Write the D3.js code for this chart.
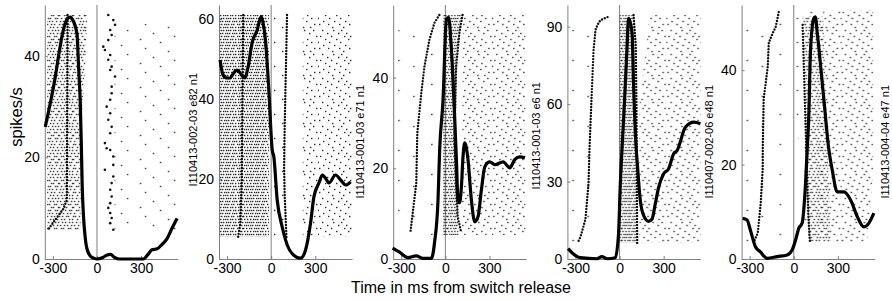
<!DOCTYPE html>
<html>
<head>
<meta charset="utf-8">
<script src="https://cdn.jsdelivr.net/npm/d3@7"></script>
<style>
body { margin: 0; background: #fff; }
svg { display: block; font-family: Arial, "Liberation Sans", sans-serif; }
</style>
</head>
<body>
<svg id="chart" width="892" height="300"></svg>
<script>
// unit names, axis limits and ticks
var labels = ["I110413-002-03 e82 n1", "I110413-001-03 e71 n1", "I110413-001-03 e6 n1",
              "I110407-002-06 e48 n1", "I110413-004-04 e47 n1"];
var yMax = [50, 63.5, 56, 98.4, 53.8];
var yTicks = [[0, 20, 40], [0, 20, 40, 60], [0, 20, 40], [0, 30, 60, 90], [0, 20, 40]];
var xTicks = [-300, 0, 300];
var xDomain = [-355, 550];
var trialCounts = [72, 80, 72, 76, 78];

// firing rate curves: [ms, spikes/s]
var psth1 = [[-352,26],[-318,30.6],[-284,35.8],[-262,39.8],[-239,43.7],[-216,46.4],[-193,47.5],[-180,47.6],
  [-170,47.3],[-136,44.3],[-125,37.7],[-114,31],[-106,22],[-101,15],[-91,8.1],[-80,4.2],[-64,1.6],[-34,0.3],
  [0,0],[40,0.3],[70,0.8],[92,0.9],[120,0.3],[150,0],[315,0],[350,1],[374,1.8],[410,2],[440,2.8],[477,4],
  [510,6],[545,8]];
var psth2 = [[-348,49.75],[-327,46],[-300,45.25],[-280,45.25],[-255,46.5],[-232,47.25],[-211,46.5],[-180,45.25],
  [-157,48],[-130,54],[-95,57.25],[-68,60.6],[-55,59],[-39,54.75],[-16,42.25],[7,27.25],[18,25.6],[41,14.75],
  [75,8],[109,3.5],[166,0.6],[200,0.2],[234,2.25],[268,9],[291,15.6],[325,19],[348,21],[370,20.2],[393,19],
  [438,21],[473,19.75],[507,18.5],[541,19.3]];
var psth3 = [[-359,2.4],[-312,1.5],[-255,0.3],[-198,0.7],[-153,0.15],[-95,0.15],[-73,3.8],[-50,13],[-39,24],
  [-16,35],[7,52.8],[22,53.3],[41,46.2],[63,31.4],[75,21.9],[86,13],[97,12.4],[109,15.9],[120,22.5],[132,25.6],
  [154,21.9],[177,13],[200,8.2],[222,9.3],[245,15.2],[268,20.3],[302,21.4],[336,20.8],[393,21.4],[438,20.1],
  [472,21.9],[507,22.5],[541,22.3]];
var psth4 = [[-350,4],[-316,2],[-268,0.5],[-154,0.1],[-120,0.9],[-86,0.1],[-29,0.5],[-7,9.7],[5,29.1],[16,42],
  [34,61.5],[50,80.9],[61,93.2],[85,87.5],[95,68],[114,42],[119,38.2],[141,22.7],[164,16.8],[198,14.6],
  [221,15.5],[243,21.4],[266,27.8],[300,33],[334,35],[368,40.8],[391,42],[448,51],[505,53],[550,52.4]];
var psth5 = [[-348,8.6],[-318,8.3],[-295,6.1],[-261,2.6],[-227,1.5],[-181,0.15],[-113,0.5],[-45,0.85],[-11,1.9],
  [12,4],[34,6.5],[57,7.6],[80,16],[91,23],[102,30.1],[114,44.2],[136,50.9],[146,51.3],[160,47.8],[205,33.7],
  [239,23.1],[262,18.8],[296,14.2],[341,14.2],[387,12.5],[432,9],[477,6.8],[511,7.6],[545,9.7]];

// raster areas: [density, outline as [ms, trial]]
var blocks1 = [["dense", [[-340,0],[-65,0],[-85,20],[-110,40],[-112,72],[-340,72]]],
               ["sparse", [[120,3],[545,3],[545,72],[120,72]]]];
var blocks2 = [["xdense", [[-350,0],[-15,0],[-15,80],[-350,80]]],
               ["sparse", [[0,0],[90,0],[90,80],[0,80]]],
               ["medium", [[215,0],[550,0],[550,80],[215,80]]]];
var blocks3 = [["vsparse", [[-350,5],[-60,5],[-60,72],[-350,72]]],
               ["xdense", [[-15,0],[110,0],[75,20],[70,50],[90,72],[-15,72]]],
               ["medium", [[120,0],[545,0],[545,72],[110,72]]]];
var blocks4 = [["vsparse", [[-350,5],[-100,5],[-100,76],[-350,76]]],
               ["xdense", [[0,0],[100,0],[115,76],[0,76]]],
               ["medium", [[205,0],[552,0],[552,76],[135,76],[135,30]]]];
var blocks5 = [["vsparse", [[-345,0],[-5,0],[-5,78],[-345,78]]],
               ["sparse", [[0,0],[200,0],[200,2],[60,2],[80,40],[100,78],[70,78],[0,20]]],
               ["medium", [[200,0],[540,0],[540,55],[500,78],[250,78],[240,60],[200,2]]],
               ["dense", [[60,2],[200,2],[240,60],[250,78],[100,78],[80,40]]]];

// event markers per trial: [trial, ms]
var marksA1 = [[0,-200],[62,-205],[65,-230],[72,-335]];
var marksA2 = [[0,-190],[60,-200],[75,-210],[80,-225]];
var marksA3 = [[0,-41],[2.6,-75],[8.2,-109],[17,-143],[25.6,-164],[38.7,-191],[55,-198],[66,-225],[71.5,-239]];
var marksA4 = [[0.7,-82],[1.7,-130],[3.3,-150],[5,-164],[11.7,-177],[28,-191],[45,-205],[56,-211],[68,-232],
  [74,-266],[76,-286]];
var marksA5 = [[0.7,-102],[5.7,-123],[7.7,-143],[11,-170],[19,-177],[30,-205],[47,-211],[53,-211],[65,-225],
  [75,-245],[78,-272]];
var marksB2 = [[0,108],[10,104],[25,98],[40,92],[55,88],[65,92],[75,100],[80,104]];
var marksB3 = [[0,117],[6,95],[17,73],[28,68],[41,61],[55,73],[66,84],[71,107]];
var marksB4 = [[0,95],[10,110],[30,115],[60,118],[76,120]];
var marksB5 = [[5,60],[30,75],[55,90],[70,100],[78,110]];
var marksDots1 = [[0,77],[1.7,111],[3.3,123],[5,90],[6.7,100],[8.4,77],[10.6,43],[11.7,54],[13.4,90],[15,77],
  [17.3,100],[18.4,90],[20.6,123],[24,100],[26.2,100],[28.4,90],[30.7,66],[32.9,90],[35.1,77],[37.4,100],
  [39.6,90],[42.9,54],[44.6,66],[45.2,90],[47.4,111],[50.2,111],[51.8,54],[54.1,111],[56.3,100],[58.5,90],
  [60.8,100],[63,90],[64.6,77],[66.3,90],[68,100],[69.7,90],[71.9,111]];

var psths = [psth1, psth2, psth3, psth4, psth5];
var blocks = [blocks1, blocks2, blocks3, blocks4, blocks5];
var marksA = [marksA1, marksA2, marksA3, marksA4, marksA5];
var marksB = [[], marksB2, marksB3, marksB4, marksB5];
var marksDots = [marksDots1, [], [], [], []];

// layout
var margin = { left: 44.8, top: 5 };
var panelStep = 174.2, panelWidth = 133, height = 254;
var rasterTop = [10, 10, 10, 10, 5];
var rasterBottom = [225, 232, 230, 238, 237];
var labelDx = [19, 12, 14, 13, 14];
var labelEnd = [68, 80, 77, 80, 80];
var axisGrey = "#808080";

var svg = d3.select("#chart");

// dot textures for the rasters (3px per trial row)
var tiles = {
  xdense: { w: 30, rows: [[0,2,4,7,9,11,14,16,19,21,23,26,28], [1,3,6,8,10,13,15,17,20,22,25,27,29],
    [0,2,5,7,9,12,14,18,20,23,24,27], [1,4,6,8,11,13,16,19,21,22,25,28]] },
  dense: { w: 40, rows: [[0,3,7,10,13,17,20,24,27,31,35,38], [1,5,8,12,15,19,22,26,29,33,36],
    [2,4,9,11,16,18,23,25,30,32,37], [0,6,8,13,14,19,21,27,28,34,39], [3,5,10,12,16,20,24,26,31,33,36],
    [1,4,7,11,15,18,22,25,29,35,38], [2,6,9,14,17,21,23,28,30,34,37], [0,5,8,12,16,19,24,27,32,36,39]] },
  medium: { w: 50, rows: [[3,14,22,35,44], [8,19,27,40], [1,12,25,31,47], [6,17,29,38],
    [10,21,33,42,49], [4,15,26,37], [0,9,20,30,45], [13,24,34,41]] },
  sparse: { w: 60, rows: [[22],[48],[9],[35],[55],[16],[40],[3]] },
  vsparse: { w: 80, rows: [[20],[],[],[61],[],[],[38],[],[5],[]] }
};
var defs = svg.append("defs");
Object.keys(tiles).forEach(function(name) {
  var t = tiles[name];
  var pat = defs.append("pattern")
    .attr("id", "pat-" + name)
    .attr("patternUnits", "userSpaceOnUse")
    .attr("width", t.w)
    .attr("height", t.rows.length * 3);
  t.rows.forEach(function(row, r) {
    row.forEach(function(px) {
      pat.append("rect")
        .attr("x", px).attr("y", r * 3 + 0.8)
        .attr("width", 1.4).attr("height", 1.4)
        .attr("fill", "#2a2a2a");
    });
  });
});

labels.forEach(function(label, i) {
  var g = svg.append("g")
    .attr("transform", "translate(" + (margin.left + i * panelStep) + "," + margin.top + ")");

  var x = d3.scaleLinear().domain(xDomain).range([0, panelWidth]);
  var y = d3.scaleLinear().domain([0, yMax[i]]).range([height, 0]);
  var trial = d3.scaleLinear().domain([0, trialCounts[i]]).range([rasterTop[i], rasterBottom[i]]);

  // release time
  g.append("line")
    .attr("x1", x(0)).attr("x2", x(0))
    .attr("y1", 0).attr("y2", height)
    .attr("stroke", axisGrey).attr("stroke-width", 1);

  var yAxis = g.append("g")
    .call(d3.axisLeft(y).tickValues(yTicks[i]).tickSize(-3).tickSizeOuter(0).tickPadding(5)
      .tickFormat(function(d) { return String(d); }));
  var xAxis = g.append("g")
    .attr("transform", "translate(0," + height + ")")
    .call(d3.axisBottom(x).tickValues(xTicks).tickSize(-3).tickSizeOuter(0).tickPadding(4)
      .tickFormat(function(d) { return String(d); }));
  [yAxis, xAxis].forEach(function(ax) {
    ax.select(".domain").attr("stroke", axisGrey);
    ax.selectAll(".tick line").attr("stroke", axisGrey);
    ax.selectAll(".tick text").attr("fill", "#000").style("font-size", "14px")
      .style("font-family", "Arial, 'Liberation Sans', sans-serif");
  });

  // raster textures
  var outline = d3.line()
    .x(function(d) { return x(d[0]); })
    .y(function(d) { return trial(d[1]); });
  blocks[i].forEach(function(b) {
    g.append("path")
      .attr("d", outline(b[1]) + "Z")
      .attr("fill", "url(#pat-" + b[0] + ")");
  });

  // event markers
  var markLine = d3.line()
    .x(function(d) { return x(d[1]); })
    .y(function(d) { return trial(d[0]); });
  [marksA[i], marksB[i]].forEach(function(m) {
    if (!m.length) return;
    g.append("path")
      .attr("d", markLine(m))
      .attr("fill", "none")
      .attr("stroke", "#111")
      .attr("stroke-width", 2.4)
      .attr("stroke-linecap", "round")
      .attr("stroke-dasharray", "0 3");
  });
  g.selectAll(".mark-dot")
    .data(marksDots[i])
    .enter()
    .append("circle")
    .attr("class", "mark-dot")
    .attr("cx", function(d) { return x(d[1]); })
    .attr("cy", function(d) { return trial(d[0]); })
    .attr("r", 1.3)
    .attr("fill", "#111");

  // firing rate
  var rate = d3.line()
    .curve(d3.curveMonotoneX)
    .x(function(d) { return x(d[0]); })
    .y(function(d) { return y(d[1]); });
  g.append("path")
    .datum(psths[i])
    .attr("d", rate)
    .attr("fill", "none")
    .attr("stroke", "#000")
    .attr("stroke-width", 3.2)
    .attr("stroke-linejoin", "round");

  // unit label
  g.append("text")
    .attr("transform", "translate(" + (panelWidth + labelDx[i]) + "," + labelEnd[i] + ") rotate(-90)")
    .attr("text-anchor", "end")
    .style("font-size", "11px")
    .text(label);
});

svg.append("text")
  .attr("transform", "translate(22,117) rotate(-90)")
  .attr("text-anchor", "middle")
  .style("font-size", "16.5px")
  .text("spikes/s");

svg.append("text")
  .attr("x", 461)
  .attr("y", 293)
  .attr("text-anchor", "middle")
  .style("font-size", "16px")
  .text("Time in ms from switch release");
</script>
</body>
</html>
